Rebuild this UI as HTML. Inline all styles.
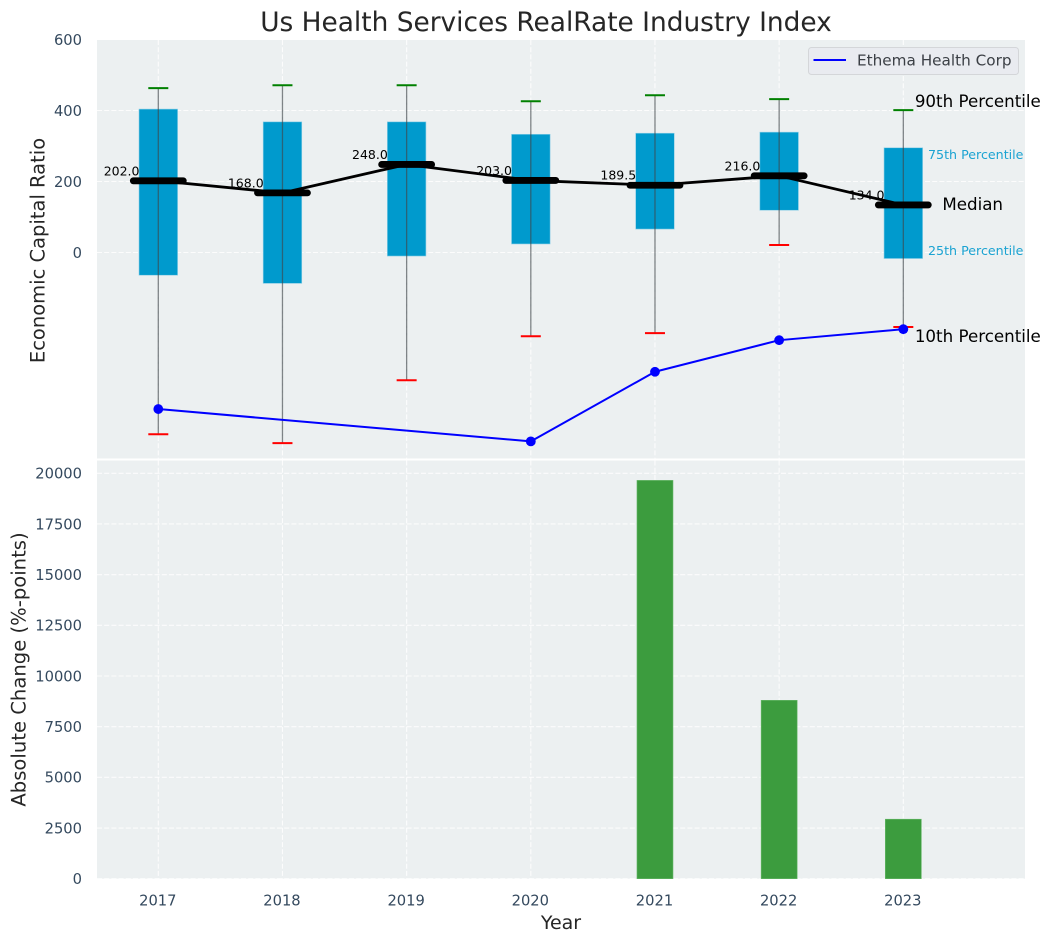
<!DOCTYPE html>
<html lang="en">
<head>
<meta charset="utf-8">
<title>Us Health Services RealRate Industry Index</title>
<style>
html,body{margin:0;padding:0;background:#fff;width:1050px;height:942px;overflow:hidden}
svg{display:block;font-family:"DejaVu Sans","Liberation Sans",sans-serif}
</style>
</head>
<body>
<svg id="chart" xmlns="http://www.w3.org/2000/svg" width="1050" height="942" viewBox="0 0 1050 942"></svg>
<script>
const years = [2017, 2018, 2019, 2020, 2021, 2022, 2023];
const p90 = [463, 471, 471, 426, 443, 432, 401];
const p75 = [404, 368, 368, 333, 336, 339, 295];
const median = [202, 168, 248, 203, 189.5, 216, 134];
const medianLabels = ["202.0", "168.0", "248.0", "203.0", "189.5", "216.0", "134.0"];
const p25 = [-64, -87, -10, 24, 66, 119, -17];
const p10 = [-512, -537, -360, -236, -227, 21, -210];
const companyRatio = [-441, null, null, -532, -336, -247, -216];
const absoluteChange = [0, 0, 0, 0, 19650, 8800, 2935];
const topTicks = [600, 400, 200, 0];
const bottomTicks = [0, 2500, 5000, 7500, 10000, 12500, 15000, 17500, 20000];

const NS = 'http://www.w3.org/2000/svg';
const svg = document.getElementById('chart');
const LEFT = 97, RIGHT = 1025;
const TOP_A = 40, BOTTOM_A = 458.5, TOP_B = 460.5, BOTTOM_B = 878.7;
const xScale = y => 158.3 + 124.17 * (y - 2017);
const yTop = v => 252.5 - 0.355 * v;
const yBottom = v => 878.7 - 0.02027 * v;

function make(tag, attrs, text) {
  const el = document.createElementNS(NS, tag);
  for (const k in attrs) el.setAttribute(k, attrs[k]);
  if (text !== undefined) el.textContent = text;
  svg.appendChild(el);
  return el;
}
function label(name, x, y, str, size, fill, anchor, extra) {
  const el = make('text', Object.assign({x: x, y: y, 'font-size': size, fill: fill, 'text-anchor': anchor || 'start'}, extra || {}), str);
  
  
  return el;
}
function seg(name, x1, y1, x2, y2, stroke, width, extra) {
  const el = make('line', Object.assign({x1: x1, y1: y1, x2: x2, y2: y2, stroke: stroke, 'stroke-width': width}, extra || {}));
  
  
  return el;
}
function polyline(name, pts, stroke, width) {
  const el = make('polyline', {points: pts.join(' '), fill: 'none', stroke: stroke, 'stroke-width': width, 'stroke-linejoin': 'round'});
  
  
  return el;
}

/* axes backgrounds */
const bgTop = make('rect', {x: LEFT, y: TOP_A, width: RIGHT - LEFT, height: BOTTOM_A - TOP_A, fill: '#ecf0f1'});


const bgBottom = make('rect', {x: LEFT, y: TOP_B, width: RIGHT - LEFT, height: BOTTOM_B - TOP_B, fill: '#ecf0f1'});



/* grid */
const dash = {'stroke-dasharray': '5 2.2', opacity: 0.85};
topTicks.forEach(t => {
  seg('top-grid-horizontal', LEFT, yTop(t), RIGHT, yTop(t), '#ffffff', 1.1, dash);
  label('top-y-tick-label', 82, yTop(t) + 5.3, String(t), 14.7, '#34495e', 'end');
});
bottomTicks.forEach(t => {
  seg('bottom-grid-horizontal', LEFT, yBottom(t), RIGHT, yBottom(t), '#ffffff', 1.1, dash);
  label('bottom-y-tick-label', 82, yBottom(t) + 5.3, String(t), 14.7, '#34495e', 'end');
});
years.forEach(y => {
  seg('top-grid-vertical', xScale(y), TOP_A, xScale(y), BOTTOM_A, '#ffffff', 1.1, dash);
  seg('bottom-grid-vertical', xScale(y), TOP_B, xScale(y), BOTTOM_B, '#ffffff', 1.1, dash);
  label('x-tick-label', xScale(y) - 0.5, 905.3, String(y), 14.7, '#34495e', 'middle');
});

/* boxes */
years.forEach((y, i) => {
  const box = make('rect', {x: xScale(y) - 19.3, y: yTop(p75[i]), width: 38.6, height: yTop(p25[i]) - yTop(p75[i]), fill: '#009acd', stroke: '#8fcfe6', 'stroke-width': 0.6});
  
  
});

/* median value labels (behind the median line) */
years.forEach((y, i) => {
  label('median-value-' + y, xScale(y) - 18.8, yTop(median[i]) - 5.5, medianLabels[i], 12.5, '#000000', 'end');
});

/* whiskers and caps */
years.forEach((y, i) => {
  seg('whisker-' + y, xScale(y), yTop(p90[i]), xScale(y), yTop(p10[i]), '#3f474b', 1.3, {opacity: 0.65});
  seg('cap-90th-' + y, xScale(y) - 10, yTop(p90[i]), xScale(y) + 10, yTop(p90[i]), '#008000', 2);
  seg('cap-10th-' + y, xScale(y) - 10, yTop(p10[i]), xScale(y) + 10, yTop(p10[i]), '#ff0000', 2);
});

/* median trend and markers */
polyline('median-line', years.map((y, i) => xScale(y) + ',' + yTop(median[i])), '#000000', 2.8);
years.forEach((y, i) => {
  seg('median-bar-' + y, xScale(y) - 25, yTop(median[i]), xScale(y) + 25, yTop(median[i]), '#000000', 6.8, {'stroke-linecap': 'round'});
});

/* company line */
const companyYears = years.filter((y, i) => companyRatio[i] !== null);
const companyValues = companyRatio.filter(v => v !== null);
polyline('company-line', companyYears.map((y, i) => xScale(y) + ',' + yTop(companyValues[i])), '#0000ff', 2);
companyYears.forEach((y, i) => {
  const dot = make('circle', {cx: xScale(y), cy: yTop(companyValues[i]), r: 4.9, fill: '#0000ff'});
  
  
});

/* bars */
years.forEach((y, i) => {
  if (!absoluteChange[i]) return;
  const bar = make('rect', {x: xScale(y) - 18, y: yBottom(absoluteChange[i]), width: 36, height: BOTTOM_B - yBottom(absoluteChange[i]), fill: '#3c9c3e', stroke: '#66b868', 'stroke-width': 0.6});
  
  
});

/* percentile annotations */
const lastX = xScale(2023);
label('annotation-90th-percentile', lastX + 11.5, 107, '90th Percentile', 16.7, '#000000');
label('annotation-10th-percentile', lastX + 11.5, 342, '10th Percentile', 16.7, '#000000');
label('annotation-median', lastX + 39, 210, 'Median', 16.7, '#000000');
label('annotation-75th-percentile', lastX + 24.7, 159, '75th Percentile', 12.65, '#1ba3d2');
label('annotation-25th-percentile', lastX + 24.7, 255, '25th Percentile', 12.65, '#1ba3d2');

/* legend */
const legendBox = make('rect', {x: 808.5, y: 47.5, width: 210, height: 27, rx: 3, ry: 3, fill: '#e9ebf0', stroke: '#d4d6d9', 'stroke-width': 1});


seg('legend-line', 813.5, 60, 846, 60, '#0000ff', 2);
label('legend-label', 857, 65.5, 'Ethema Health Corp', 15.25, '#3b3f45');

/* titles */
label('chart-title', 546, 31, 'Us Health Services RealRate Industry Index', 26.4, '#262626', 'middle');
label('x-axis-title', 561, 929, 'Year', 19, '#262626', 'middle');
label('top-y-axis-title', 0, 0, 'Economic Capital Ratio', 19.5, '#262626', 'middle', {transform: 'translate(44.5,250.5) rotate(-90)'});
label('bottom-y-axis-title', 0, 0, 'Absolute Change (%-points)', 19.6, '#262626', 'middle', {transform: 'translate(25.5,669.5) rotate(-90)'});
</script>
</body>
</html>
